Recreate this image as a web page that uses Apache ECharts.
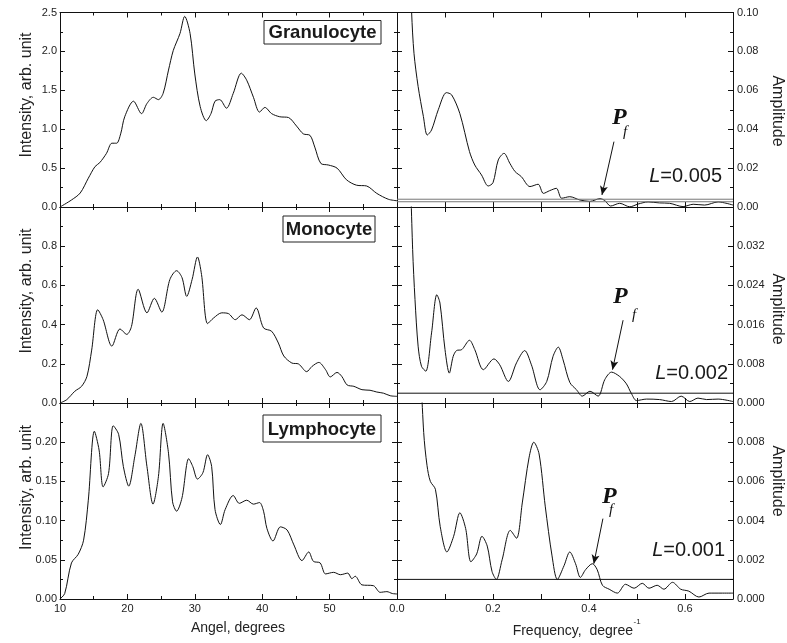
<!DOCTYPE html>
<html>
<head>
<meta charset="utf-8">
<script src="https://cdn.jsdelivr.net/npm/echarts@6/dist/echarts.min.js"></script>
<style>
  html, body { margin: 0; padding: 0; background: #fff; }
  #chart { width: 787px; height: 643px; }
</style>
</head>
<body>
<div id="chart"></div>
<script>
  // angle scans (degrees, intensity)
  var granulocyteIntensity = [[10, 0], [11.7, 0.09], [13.0, 0.18], [14.2, 0.37], [15.2, 0.52], [15.9, 0.57], [16.9, 0.69], [17.7, 0.82], [18.4, 0.82], [19.0, 0.94], [19.6, 1.16], [20.9, 1.36], [22.1, 1.20], [22.9, 1.33], [23.85, 1.41], [24.6, 1.38], [25.3, 1.46], [26.1, 1.76], [26.8, 2.01], [27.8, 2.23], [28.5, 2.45], [29.3, 2.23], [30.0, 1.71], [30.8, 1.29], [31.7, 1.11], [32.4, 1.20], [33.0, 1.36], [33.7, 1.38], [34.7, 1.27], [35.7, 1.46], [36.9, 1.72], [37.7, 1.63], [38.7, 1.41], [39.6, 1.22], [40.4, 1.28], [41.4, 1.20], [42.6, 1.16], [43.9, 1.15], [45.1, 1.04], [46.1, 0.94], [47.1, 0.92], [47.8, 0.77], [48.7, 0.56], [49.8, 0.54], [51.1, 0.50], [52.5, 0.35], [54.0, 0.28], [55.5, 0.27], [57.0, 0.175], [58.7, 0.10], [60, 0.08]];
  var monocyteIntensity = [[10, 0], [11.0, 0.017], [12.2, 0.06], [13.2, 0.085], [14.0, 0.136], [14.7, 0.27], [15.6, 0.476], [16.4, 0.425], [17.7, 0.29], [18.9, 0.378], [19.9, 0.35], [20.6, 0.39], [21.6, 0.58], [22.9, 0.46], [24.0, 0.534], [25.1, 0.464], [26.3, 0.63], [27.3, 0.675], [28.1, 0.64], [28.8, 0.544], [29.6, 0.63], [30.4, 0.745], [31.0, 0.655], [31.9, 0.405], [32.8, 0.434], [34.0, 0.46], [35.0, 0.456], [36.0, 0.425], [37.0, 0.45], [38.1, 0.425], [39.1, 0.485], [40.2, 0.383], [41.4, 0.366], [42.4, 0.306], [43.2, 0.24], [44.4, 0.204], [45.4, 0.199], [46.6, 0.16], [47.4, 0.187], [48.4, 0.207], [49.4, 0.17], [50.1, 0.133], [51.1, 0.156], [51.8, 0.136], [52.6, 0.092], [53.6, 0.085], [54.8, 0.068], [56.0, 0.065], [57.0, 0.056], [58.0, 0.05], [59.0, 0.037], [60, 0.034]];
  var lymphocyteIntensity = [[10, 0], [10.7, 0.007], [11.7, 0.046], [12.7, 0.057], [13.5, 0.075], [14.2, 0.126], [15.1, 0.214], [15.8, 0.19], [16.4, 0.143], [17.2, 0.16], [17.9, 0.221], [18.7, 0.21], [19.4, 0.169], [20.2, 0.144], [21.1, 0.182], [22.0, 0.224], [22.9, 0.169], [23.8, 0.121], [24.6, 0.156], [25.3, 0.224], [26.1, 0.186], [26.7, 0.124], [27.3, 0.112], [28.1, 0.129], [29.1, 0.179], [29.7, 0.169], [30.4, 0.153], [31.2, 0.161], [31.9, 0.184], [32.5, 0.169], [33.0, 0.114], [33.8, 0.095], [34.5, 0.114], [35.7, 0.132], [36.6, 0.122], [37.7, 0.126], [38.7, 0.121], [39.6, 0.123], [40.2, 0.112], [40.7, 0.09], [41.6, 0.074], [42.7, 0.092], [43.7, 0.088], [44.7, 0.069], [45.9, 0.049], [46.9, 0.06], [47.6, 0.048], [48.6, 0.046], [49.4, 0.032], [50.6, 0.034], [51.6, 0.031], [52.7, 0.033], [53.3, 0.026], [53.8, 0.029], [54.8, 0.018], [56.5, 0.017], [57.5, 0.0085], [58.5, 0.0094], [59.3, 0.007], [60, 0.0064]];

  // spectra (frequency, amplitude)
  var granulocyteSpectrum = [[0.026, 0.14], [0.0305, 0.10], [0.0354, 0.079], [0.044, 0.062], [0.055, 0.0465], [0.063, 0.037], [0.072, 0.0396], [0.086, 0.05], [0.103, 0.0588], [0.114, 0.0576], [0.131, 0.048], [0.151, 0.0285], [0.162, 0.0216], [0.176, 0.0165], [0.19, 0.0108], [0.2, 0.0125], [0.211, 0.0242], [0.223, 0.0276], [0.235, 0.0225], [0.246, 0.0182], [0.259, 0.0156], [0.277, 0.0105], [0.294, 0.0117], [0.305, 0.007], [0.318, 0.0084], [0.332, 0.0096], [0.343, 0.0045], [0.36, 0.0053], [0.381, 0.0036], [0.402, 0.0029], [0.423, 0.0043], [0.433, 0.0033], [0.445, 0.0005], [0.464, 0.0019], [0.485, 0.0001], [0.502, 0.0015], [0.523, 0.0026], [0.547, 0.0021], [0.568, 0.0019], [0.596, 0.0002], [0.617, 0.0014], [0.641, 0.001], [0.669, 0.0026], [0.7, 0.001]];
  var monocyteSpectrum = [[0.027, 0.05], [0.0326, 0.0313], [0.0375, 0.0211], [0.044, 0.0116], [0.051, 0.0075], [0.06, 0.0065], [0.072, 0.0143], [0.083, 0.0221], [0.0895, 0.0204], [0.1, 0.0109], [0.109, 0.0061], [0.117, 0.0095], [0.124, 0.0107], [0.135, 0.0109], [0.151, 0.0128], [0.162, 0.0109], [0.18, 0.0068], [0.202, 0.009], [0.214, 0.0078], [0.232, 0.0044], [0.249, 0.0082], [0.266, 0.0107], [0.28, 0.0078], [0.298, 0.0027], [0.312, 0.0044], [0.325, 0.0095], [0.336, 0.0114], [0.346, 0.0088], [0.36, 0.0042], [0.374, 0.0027], [0.386, 0.0014], [0.402, 0.0024], [0.419, 0.0014], [0.433, 0.0048], [0.447, 0.0063], [0.464, 0.0054], [0.478, 0.0039], [0.488, 0.002], [0.499, 0.0005], [0.52, 0.0008], [0.547, 0.0007], [0.572, 0.0003], [0.592, 0.0014], [0.61, 0.0003], [0.627, 0.001], [0.645, 0.0007], [0.669, 0.0008], [0.7, 0.0003]];
  var lymphocyteSpectrum = [[0.047, 0.013], [0.0556, 0.0085], [0.0626, 0.0068], [0.0695, 0.006], [0.08, 0.0056], [0.09, 0.0037], [0.104, 0.0024], [0.118, 0.0032], [0.131, 0.0044], [0.143, 0.0036], [0.154, 0.0019], [0.166, 0.0023], [0.177, 0.0032], [0.188, 0.0027], [0.198, 0.0014], [0.207, 0.001], [0.219, 0.002], [0.236, 0.0035], [0.249, 0.0031], [0.261, 0.0049], [0.275, 0.0072], [0.285, 0.008], [0.296, 0.0074], [0.309, 0.0047], [0.323, 0.0022], [0.334, 0.001], [0.348, 0.0017], [0.36, 0.0024], [0.372, 0.0018], [0.382, 0.0011], [0.393, 0.0015], [0.407, 0.0018], [0.417, 0.0015], [0.428, 0.0007], [0.442, 0.0005], [0.459, 0.0003], [0.476, 0.00075], [0.494, 0.00055], [0.511, 0.0008], [0.525, 0.00055], [0.542, 0.0007], [0.556, 0.0005], [0.574, 0.00085], [0.591, 0.0005], [0.608, 0.0004], [0.629, 0.0001], [0.65, 0.0003], [0.675, 0.0003], [0.7, 0.0003]];

  var cellNames = ['Granulocyte', 'Monocyte', 'Lymphocyte'];
  var levelLabels = ['0.005', '0.002', '0.001'];
  // horizontal level lines drawn on each spectrum
  var levelLines = [[0.0040, 0.0027], [0.002], [0.001]];
  // P_f arrows: [from, to]
  var pfArrows = [
    [[0.452, 0.0336], [0.427, 0.0062]],
    [[0.471, 0.0169], [0.449, 0.0068]],
    [[0.429, 0.0041], [0.410, 0.0018]]
  ];

  var intensityMax = [2.5, 1.0, 0.25];
  var intensityStep = [0.5, 0.2, 0.05];
  var intensityDigits = [1, 1, 2];
  var amplitudeMax = [0.10, 0.04, 0.010];
  var amplitudeStep = [0.02, 0.008, 0.002];
  var amplitudeDigits = [2, 3, 3];

  var FONT = 'Liberation Sans, Arial, sans-serif';
  var SERIF = 'Liberation Serif, Times New Roman, serif';
  var rows = [{top: 12.5, height: 194.5}, {top: 207, height: 196}, {top: 403, height: 196}];

  var chart = echarts.init(document.getElementById('chart'));

  function axisBase (gi, pos, min, max, step, labelOpt, minor) {
    return {
      gridIndex: gi,
      type: 'value',
      position: pos,
      min: min,
      max: max,
      interval: step,
      axisLine: {show: true, onZero: false, lineStyle: {color: '#111', width: 1}},
      axisTick: {show: true, inside: true, length: 5, lineStyle: {color: '#111'}},
      minorTick: {show: minor, splitNumber: 2, length: 3, lineStyle: {color: '#111'}},
      splitLine: {show: false},
      axisLabel: labelOpt
    };
  }

  var grids = [], xAxes = [], yAxes = [], series = [];
  var angleData = [granulocyteIntensity, monocyteIntensity, lymphocyteIntensity];
  var specData = [granulocyteSpectrum, monocyteSpectrum, lymphocyteSpectrum];

  for (var r = 0; r < 3; r++) {
    var bottomRow = r === 2;
    // left panel
    var gl = r * 2;
    grids.push({left: 60, top: rows[r].top, width: 337, height: rows[r].height, outerBoundsMode: 'none'});
    xAxes.push(axisBase(gl, 'bottom', 10, 60, 10, {
      show: bottomRow, showMaxLabel: false, margin: 4, fontSize: 11, fontFamily: FONT, color: '#222'
    }, true));
    xAxes.push(axisBase(gl, 'top', 10, 60, 10, {show: false}, true));
    (function (d) {
      yAxes.push(axisBase(gl, 'left', 0, intensityMax[r], intensityStep[r], {
        show: true, showMaxLabel: r === 0, margin: 3, fontSize: 11, fontFamily: FONT, color: '#222',
        formatter: function (v) { return v.toFixed(d); }
      }, true));
    })(intensityDigits[r]);
    yAxes.push(axisBase(gl, 'right', 0, intensityMax[r], intensityStep[r], {show: false}, true));

    // right panel
    var gr = r * 2 + 1;
    grids.push({left: 397, top: rows[r].top, width: 336, height: rows[r].height, outerBoundsMode: 'none'});
    xAxes.push(axisBase(gr, 'bottom', 0, 0.7, 0.1, {
      show: bottomRow, showMaxLabel: false, margin: 4, fontSize: 11, fontFamily: FONT, color: '#222',
      formatter: function (v) { return Math.round(v * 10) % 2 === 0 ? v.toFixed(1) : ''; }
    }, false));
    xAxes.push(axisBase(gr, 'top', 0, 0.7, 0.1, {show: false}, false));
    (function (d) {
      yAxes.push(axisBase(gr, 'right', 0, amplitudeMax[r], amplitudeStep[r], {
        show: true, showMaxLabel: r === 0, margin: 4, fontSize: 11, fontFamily: FONT, color: '#222',
        formatter: function (v) { return v.toFixed(d); }
      }, true));
    })(amplitudeDigits[r]);
    yAxes.push(axisBase(gr, 'left', 0, amplitudeMax[r], amplitudeStep[r], {show: false}, true));

    series.push({
      type: 'line', xAxisIndex: gl * 2, yAxisIndex: gl * 2, data: angleData[r],
      smooth: 0.3, showSymbol: false, silent: true,
      lineStyle: {color: '#111', width: 1}
    });
    series.push({
      type: 'line', xAxisIndex: gr * 2, yAxisIndex: gr * 2, data: specData[r],
      smooth: 0.3, showSymbol: false, silent: true, clip: true,
      lineStyle: {color: '#111', width: 1},
      markLine: {
        silent: true, symbol: ['none', 'arrow'], symbolSize: [6, 9],
        label: {show: false},
        lineStyle: {color: '#111', width: 1, type: 'solid'},
        data: [[{coord: pfArrows[r][0]}, {coord: pfArrows[r][1]}]]
      }
    });
    levelLines[r].forEach(function (lv) {
      series.push({
        type: 'line', xAxisIndex: gr * 2, yAxisIndex: gr * 2,
        data: [[0, lv], [0.7, lv]], showSymbol: false, silent: true,
        lineStyle: {color: r === 0 ? '#777' : '#111', width: 1}
      });
    });
  }

  var graphic = [];
  var boxes = [
    {x: 264, y: 20.5, w: 117, h: 23.5},
    {x: 283, y: 216, w: 92, h: 26},
    {x: 263, y: 415, w: 118, h: 27}
  ];
  var intensityNameY = [95, 291, 487.5];
  var amplitudeNameY = [111, 309, 481];
  var levelPos = [{x: 722, y: 176}, {x: 728, y: 373}, {x: 725, y: 550.5}];
  var pPos = [{x: 612, y: 118}, {x: 613, y: 296.5}, {x: 602, y: 496.5}];
  var fPos = [{x: 623, y: 132}, {x: 632, y: 315}, {x: 609, y: 510}];

  for (var i = 0; i < 3; i++) {
    graphic.push({
      type: 'rect', silent: true,
      shape: {x: boxes[i].x, y: boxes[i].y, width: boxes[i].w, height: boxes[i].h},
      style: {fill: '#fff', stroke: '#222', lineWidth: 1}
    });
    graphic.push({
      type: 'text', silent: true, x: boxes[i].x + boxes[i].w / 2, y: boxes[i].y + boxes[i].h / 2 + 1,
      style: {text: cellNames[i], fontSize: 18.5, fontWeight: 'bold', fontFamily: FONT, fill: '#1a1a1a',
        align: 'center', verticalAlign: 'middle', textAlign: 'center', textVerticalAlign: 'middle'}
    });
    graphic.push({
      type: 'text', silent: true, x: 27, y: intensityNameY[i], rotation: Math.PI / 2,
      style: {text: 'Intensity, arb. unit', fontSize: 16, fontFamily: FONT, fill: '#222',
        align: 'center', verticalAlign: 'middle', textAlign: 'center', textVerticalAlign: 'middle'}
    });
    graphic.push({
      type: 'text', silent: true, x: 777, y: amplitudeNameY[i], rotation: -Math.PI / 2,
      style: {text: 'Amplitude', fontSize: 16, fontFamily: FONT, fill: '#222',
        align: 'center', verticalAlign: 'middle', textAlign: 'center', textVerticalAlign: 'middle'}
    });
    graphic.push({
      type: 'text', silent: true, x: levelPos[i].x, y: levelPos[i].y,
      style: {text: '{i|L}=' + levelLabels[i], fontSize: 20, fontFamily: FONT, fill: '#1a1a1a',
        rich: {i: {fontStyle: 'italic', fontSize: 20, fontFamily: FONT, fill: '#1a1a1a'}},
        align: 'right', verticalAlign: 'middle', textAlign: 'right', textVerticalAlign: 'middle'}
    });
    graphic.push({
      type: 'text', silent: true, x: pPos[i].x, y: pPos[i].y,
      style: {text: 'P', fontSize: 24, fontWeight: 'bold', fontStyle: 'italic', fontFamily: SERIF, fill: '#111',
        align: 'left', verticalAlign: 'middle', textAlign: 'left', textVerticalAlign: 'middle'}
    });
    graphic.push({
      type: 'text', silent: true, x: fPos[i].x, y: fPos[i].y,
      style: {text: 'f', fontSize: 15, fontStyle: 'italic', fontFamily: SERIF, fill: '#111',
        align: 'left', verticalAlign: 'middle', textAlign: 'left', textVerticalAlign: 'middle'}
    });
  }
  graphic.push({
    type: 'text', silent: true, x: 238, y: 628,
    style: {text: 'Angel, degrees', fontSize: 14, fontFamily: FONT, fill: '#222',
      align: 'center', verticalAlign: 'middle', textAlign: 'center', textVerticalAlign: 'middle'}
  });
  graphic.push({
    type: 'text', silent: true, x: 633, y: 631,
    style: {text: 'Frequency,  degree', fontSize: 14, fontFamily: FONT, fill: '#222',
      align: 'right', verticalAlign: 'middle', textAlign: 'right', textVerticalAlign: 'middle'}
  });
  graphic.push({
    type: 'text', silent: true, x: 633.5, y: 622,
    style: {text: '-1', fontSize: 8, fontFamily: FONT, fill: '#222',
      align: 'left', verticalAlign: 'middle', textAlign: 'left', textVerticalAlign: 'middle'}
  });

  chart.setOption({
    animation: false,
    backgroundColor: '#fff',
    grid: grids,
    xAxis: xAxes,
    yAxis: yAxes,
    series: series,
    graphic: graphic
  });
</script>
</body>
</html>
